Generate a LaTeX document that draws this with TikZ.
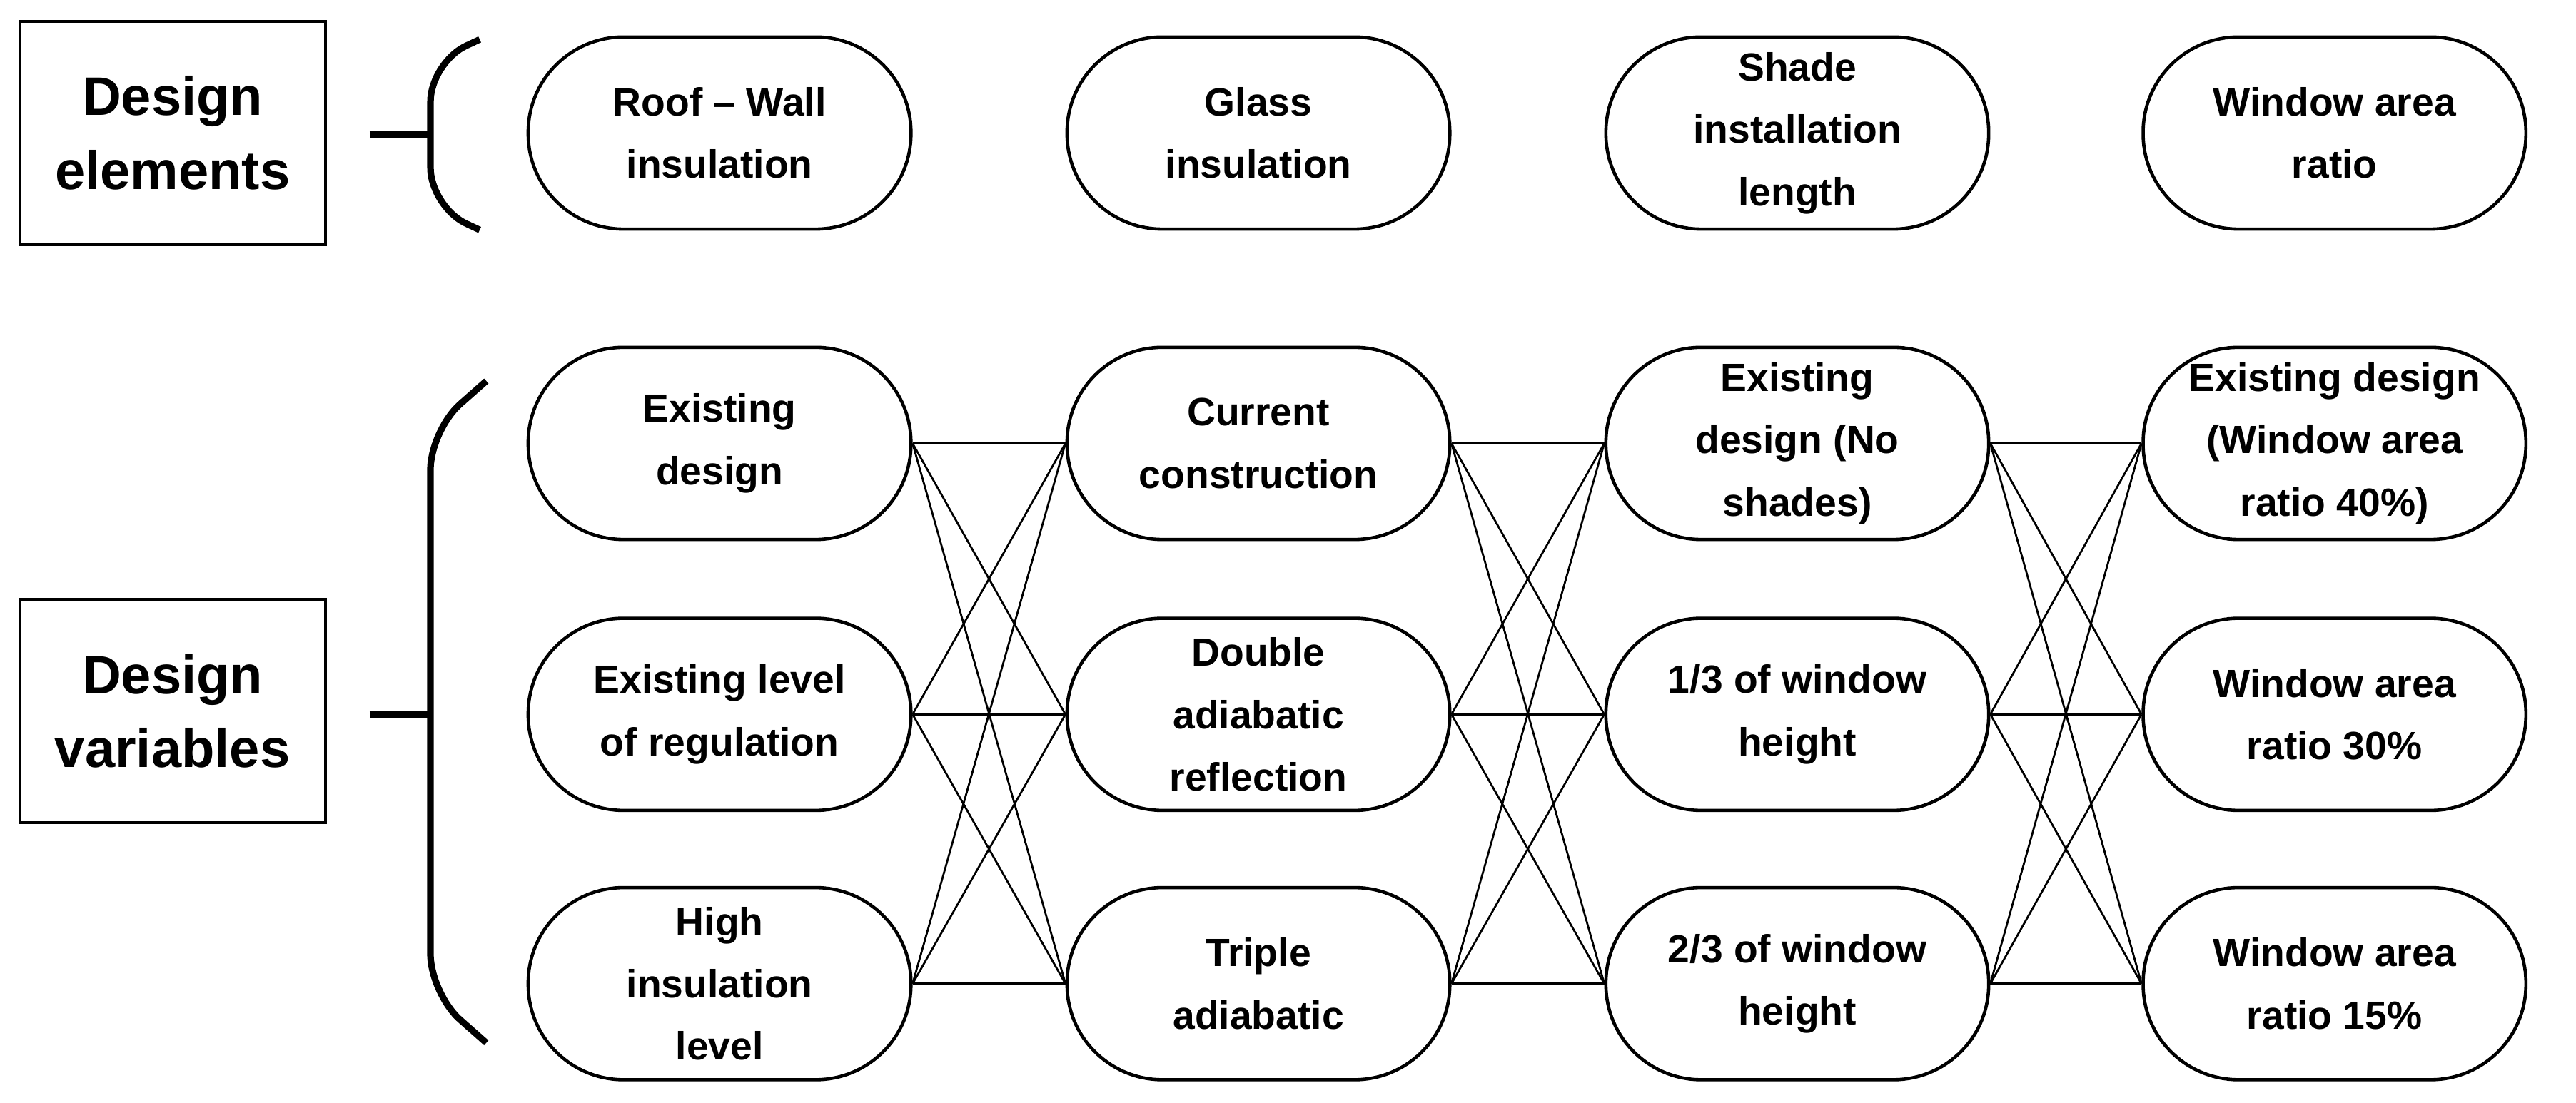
\documentclass[tikz,border=0pt]{standalone}
\usepackage{fontspec}
\setmainfont{Liberation Sans}
\begin{document}
\begin{tikzpicture}[x=0.5pt,y=-0.5pt,
  pill/.style={draw,line width=1pt,minimum width=116.5pt,minimum height=58.5pt,rounded corners=29pt,align=center,font=\bfseries\fontsize{12}{19}\selectfont,inner sep=1pt},
  lbl/.style={draw,line width=0.8pt,minimum width=93pt,minimum height=68pt,align=center,font=\bfseries\fontsize{16.5}{22.5}\selectfont},
  brace/.style={line width=2pt,rounded corners=12pt},
  link/.style={line width=0.6pt}]
\useasboundingbox (0,0) rectangle (1568,671.3);
\node[lbl] (de) at (105,81) {Design\\elements};
\node[lbl] (dv) at (105,433) {Design\\variables};
\draw[brace] (292,24) -- (262,38) -- (262,126) -- (292,140);
\draw[line width=2pt] (225,82) -- (262,82);
\draw[brace] (296,232) -- (262,262) -- (262,605) -- (296,635);
\draw[line width=2pt] (225,435) -- (262,435);
\node[pill] (t1) at (438,81) {Roof -- Wall\\insulation};
\node[pill] (t2) at (766,81) {Glass\\insulation};
\node[pill] (t3) at (1094,81) {Shade\\installation\\length};
\node[pill] (t4) at (1421,81) {Window area\\ratio};
\node[pill] (a1) at (438,270) {Existing\\design};
\node[pill] (a2) at (438,435) {Existing level\\of regulation};
\node[pill] (a3) at (438,599) {High\\insulation\\level};
\node[pill] (b1) at (766,270) {Current\\construction};
\node[pill] (b2) at (766,435) {Double\\adiabatic\\reflection};
\node[pill] (b3) at (766,599) {Triple\\adiabatic};
\node[pill] (c1) at (1094,270) {Existing\\design (No\\shades)};
\node[pill] (c2) at (1094,435) {1/3 of window\\height};
\node[pill] (c3) at (1094,599) {2/3 of window\\height};
\node[pill] (d1) at (1421,270) {Existing design\\(Window area\\ratio 40\%)};
\node[pill] (d2) at (1421,435) {Window area\\ratio 30\%};
\node[pill] (d3) at (1421,599) {Window area\\ratio 15\%};
\foreach \p/\q in {a/b,b/c,c/d}{
  \foreach \i in {1,2,3}{
    \foreach \j in {1,2,3}{
      \draw[link] (\p\i.east) -- (\q\j.west);
    }}}
\end{tikzpicture}
\end{document}
